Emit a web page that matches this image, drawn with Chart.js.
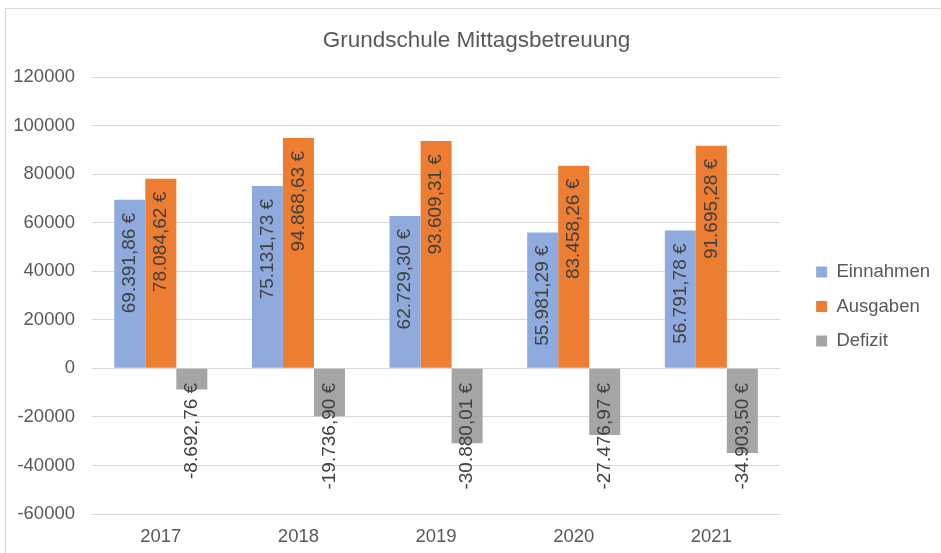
<!DOCTYPE html>
<html>
<head>
<meta charset="utf-8">
<script src="https://cdn.jsdelivr.net/npm/chart.js"></script>
<style>
  body { margin: 0; background: #fff; }
  #frame { position: absolute; left: 5px; top: 8px; width: 950px; height: 560px; border: 1px solid #D9D9D9; }
  #chart { position: absolute; left: 0; top: 0; }
</style>
</head>
<body>
<div id="frame"></div>
<canvas id="chart" width="941" height="553"></canvas>
<script>
// Daten
const jahre = ['2017', '2018', '2019', '2020', '2021'];
const einnahmen = [69391.86, 75131.73, 62729.30, 55981.29, 56791.78];
const ausgaben = [78084.62, 94868.63, 93609.31, 83458.26, 91695.28];
const defizit = [-8692.76, -19736.90, -30880.01, -27476.97, -34903.50];
const yTicks = [-60000, -40000, -20000, 0, 20000, 40000, 60000, 80000, 100000, 120000];

const textColor = '#595959';
Chart.defaults.font.family = '"Liberation Sans", Arial, sans-serif';

// 12345.6 -> "12.345,60 €"
function formatEuro(v) {
    const neg = v < 0;
    const parts = Math.abs(v).toFixed(2).split('.');
    const ganz = parts[0].replace(/\B(?=(\d{3})+(?!\d))/g, '.');
    return (neg ? '-' : '') + ganz + ',' + parts[1] + ' €';
}

// Datenbeschriftungen gedreht (wie Excel)
const labelPlugin = {
    id: 'barLabels',
    afterDatasetsDraw(chart) {
        const ctx = chart.ctx;
        ctx.save();
        ctx.font = '19px "Liberation Sans", Arial, sans-serif';
        ctx.fillStyle = '#404040';
        ctx.textAlign = 'right';
        ctx.textBaseline = 'middle';
        chart.data.datasets.forEach((ds, i) => {
            const meta = chart.getDatasetMeta(i);
            meta.data.forEach((bar, j) => {
                const v = ds.data[j];
                const y = v >= 0 ? bar.y + 13 : bar.base + 14;
                ctx.save();
                ctx.translate(bar.x, y);
                ctx.rotate(-Math.PI / 2);
                ctx.fillText(formatEuro(v), 0, 0);
                ctx.restore();
            });
        });
        ctx.restore();
    }
};

new Chart(document.getElementById('chart').getContext('2d'), {
    type: 'bar',
    data: {
        labels: jahre,
        datasets: [
            { label: 'Einnahmen', data: einnahmen, backgroundColor: '#8FAADC' },
            { label: 'Ausgaben', data: ausgaben, backgroundColor: '#ED7D31' },
            { label: 'Defizit', data: defizit, backgroundColor: '#A5A5A5' }
        ]
    },
    options: {
        responsive: false,
        animation: false,
        devicePixelRatio: 1,
        categoryPercentage: 0.676,
        barPercentage: 1,
        layout: { padding: { top: 8, left: 13, right: 1, bottom: 5 } },
        plugins: {
            title: {
                display: true,
                text: 'Grundschule Mittagsbetreuung',
                color: textColor,
                font: { size: 22.5, weight: 'normal' },
                padding: { top: 19, bottom: 23 }
            },
            legend: {
                position: 'right',
                fullSize: false,
                title: { display: true, text: '', font: { size: 10 }, padding: 5 },
                labels: {
                    color: textColor,
                    font: { size: 18.5 },
                    boxWidth: 11,
                    boxHeight: 11,
                    padding: 16
                }
            },
            tooltip: { enabled: false }
        },
        scales: {
            x: {
                grid: { display: false, drawTicks: false },
                border: { display: false },
                ticks: { color: textColor, font: { size: 18.5 }, padding: 12 },
                afterFit(scale) { scale.height = 34; }
            },
            y: {
                min: -60000,
                max: 120000,
                afterBuildTicks(scale) { scale.ticks = yTicks.map(v => ({ value: v })); },
                afterFit(scale) { scale.width = 79; },
                grid: { color: '#D9D9D9', lineWidth: 1, drawTicks: false },
                border: { display: false },
                ticks: {
                    color: textColor,
                    font: { size: 18.5 },
                    padding: 17,
                    callback: v => String(v)
                }
            },
            y2: {
                position: 'right',
                display: true,
                grid: { display: false, drawTicks: false },
                border: { display: false },
                ticks: { display: false },
                afterFit(scale) { scale.width = 20; }
            }
        }
    },
    plugins: [labelPlugin]
});
</script>
</body>
</html>
